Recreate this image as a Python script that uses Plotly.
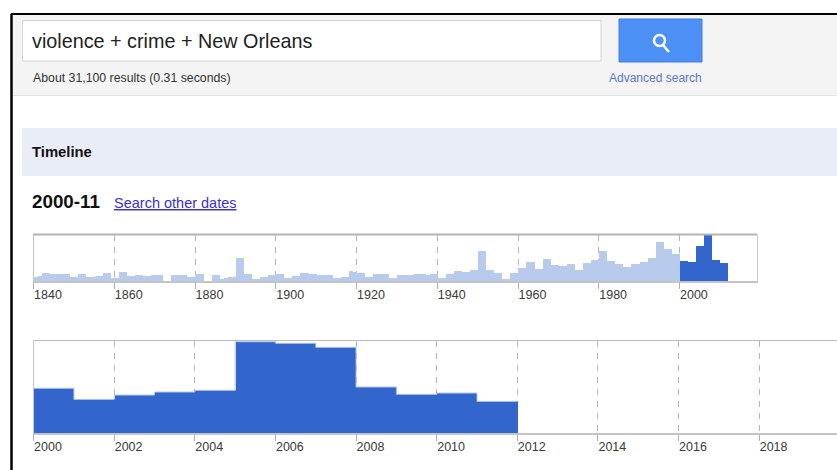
import plotly.graph_objects as go

W, H = 837, 470

# ---- data ----
overview_light_years = list(range(1840, 2000))
overview_light_values = [
    12, 15, 25, 25, 20, 22, 22, 20, 20, 12, 12, 20, 20, 13, 13, 15, 15, 25, 25, 8,
    8, 27, 27, 14, 14, 18, 18, 14, 14, 17, 17, 17, 0, 0, 19, 19, 17, 17, 13, 13,
    20, 20, 0, 0, 18, 18, 6, 10, 12, 12, 70, 70, 20, 20, 6, 6, 12, 12, 18, 18,
    20, 20, 10, 10, 16, 16, 25, 25, 20, 20, 18, 18, 17, 17, 10, 10, 12, 12, 30, 28,
    25, 25, 13, 13, 20, 20, 20, 20, 8, 8, 19, 19, 17, 17, 20, 20, 20, 18, 20, 20,
    10, 10, 20, 20, 30, 30, 28, 28, 32, 32, 90, 90, 34, 34, 25, 25, 7, 7, 25, 25,
    40, 40, 58, 58, 36, 36, 67, 67, 48, 48, 44, 44, 52, 52, 34, 34, 53, 53, 62, 62,
    90, 90, 60, 60, 50, 50, 42, 42, 50, 50, 58, 58, 68, 68, 116, 116, 95, 95, 80, 80,
]
overview_dark_years = list(range(2000, 2012))
overview_dark_values = [60, 60, 58, 58, 105, 105, 138, 138, 63, 63, 53, 53]
overview_ticks = [1840, 1860, 1880, 1900, 1920, 1940, 1960, 1980, 2000]

detail_years = list(range(2000, 2012))
detail_values = [133, 100, 113, 122, 127, 272, 267, 255, 137, 115, 119, 94]
detail_ticks = [2000, 2002, 2004, 2006, 2008, 2010, 2012, 2014, 2016, 2018]

query_text = "violence + crime + New Orleans"
stats_text = "About 31,100 results (0.31 seconds)"
advanced_text = "Advanced search"
section_text = "Timeline"
range_text = "2000-11"
other_dates_text = "Search other dates"

FONT = "Liberation Sans"
LIGHT, DARK = "#b9cbed", "#3366cc"


def px(x):
    return x / W


def py(y):
    return 1 - y / H


def rect(x0, y0, x1, y1, fill, line=None, lw=0, layer="below"):
    return dict(type="rect", xref="paper", yref="paper", x0=px(x0), x1=px(x1), y0=py(y0), y1=py(y1),
                fillcolor=fill, line=dict(color=line or fill, width=lw), layer=layer)


def seg(x0, y0, x1, y1, color, lw, layer="above"):
    return dict(type="line", xref="paper", yref="paper", x0=px(x0), x1=px(x1), y0=py(y0), y1=py(y1),
                line=dict(color=color, width=lw), layer=layer)


def text(t, x, y, size, color="#222222", bold=False, underline=False):
    s = t
    if bold:
        s = f"<b>{s}</b>"
    if underline:
        s = f"<u>{s}</u>"
    return dict(text=s, xref="paper", yref="paper", x=px(x), y=py(y), xanchor="left", yanchor="middle",
                showarrow=False, borderpad=0, font=dict(family=FONT, size=size, color=color))


fig = go.Figure()

# overview
fig.add_bar(x=overview_light_years, y=overview_light_values, width=1, offset=0, marker=dict(color=LIGHT, line_width=0),
            xaxis="x", yaxis="y", showlegend=False)
fig.add_bar(x=overview_dark_years, y=overview_dark_values, width=1, offset=0, marker=dict(color=DARK, line_width=0),
            xaxis="x", yaxis="y", showlegend=False)
# detail
fig.add_bar(x=detail_years, y=detail_values, width=1, offset=0, marker=dict(color=DARK, line_width=0),
            xaxis="x2", yaxis="y2", showlegend=False)
fig.add_scatter(x=detail_years + [detail_years[-1] + 1], y=detail_values + [detail_values[-1]], mode="lines",
                line=dict(shape="hv", color="#b3c6ec", width=1), xaxis="x2", yaxis="y2", showlegend=False,
                hoverinfo="skip")

axis_common = dict(showgrid=True, gridcolor="#b4b4b4", griddash="6px,6px", gridwidth=1, zeroline=False,
                   showline=True, linecolor="#c4c4c4", linewidth=2, mirror=False,
                   ticks="outside", ticklen=6, tickcolor="#b0b0b0", tickwidth=1,
                   ticklabelposition="outside right", ticklabelshift=-1, ticklabelstandoff=1,
                   tickfont=dict(family=FONT, size=12.5, color="#3a3a3a"))
y_common = dict(showgrid=False, zeroline=False, showticklabels=False, ticks="", showline=True,
                linecolor="#c8c8c8", linewidth=1, mirror=True)

fig.update_layout(
    width=W, height=H, autosize=False, margin=dict(l=0, r=0, t=0, b=0),
    paper_bgcolor="white", plot_bgcolor="white", barmode="overlay", bargap=0,
    xaxis=dict(axis_common, domain=[px(33.6), px(757)], range=[1840, 2019.2], tickvals=overview_ticks,
               ticktext=[str(v) for v in overview_ticks], anchor="y"),
    yaxis=dict(y_common, domain=[py(281), py(235)], range=[0, 138], anchor="x"),
    xaxis2=dict(axis_common, domain=[px(33.6), 1], range=[2000, 2019.93], tickvals=detail_ticks,
                ticktext=[str(v) for v in detail_ticks], anchor="y2"),
    yaxis2=dict(y_common, domain=[py(433), py(341)], range=[0, 274], anchor="x2"),
    shapes=[
        rect(12, 15, W, 95, "#f4f4f4"),
        seg(12, 95.5, W, 95.5, "#e2e2e2", 1, "below"),
        rect(22.5, 20.5, 601, 61, "white", "#d4d4d4", 1),
        rect(22, 128, W, 176, "#e9edf7"),
        seg(11, 14, W, 14, "#000000", 2),
        seg(11.5, 14, 11.5, H, "#000000", 2.5),
        seg(33, 234.5, 757, 234.5, "#b4b4b4", 2),
        seg(33, 340.5, W, 340.5, "#bdbdbd", 1),
        rect(619, 19, 702, 62, "#4d90f5", "#3f7fe6", 1),
        dict(type="circle", xref="paper", yref="paper", x0=px(654), x1=px(665), y0=py(35), y1=py(46),
             fillcolor="rgba(0,0,0,0)", line=dict(color="white", width=2.5), layer="above"),
        seg(663, 45, 669, 52, "white", 2.5),
    ],
    annotations=[
        text(query_text, 31, 41, 19.8, "#222222"),
        text(stats_text, 31.5, 78, 12.3, "#333333"),
        text(advanced_text, 608, 78, 12, "#5a78cc"),
        text(section_text, 31, 152, 14.8, "#111111", bold=True),
        text(range_text, 31, 201, 18.8, "#111111", bold=True),
        text(other_dates_text, 112.5, 203, 14.5, "#3a2fd0", underline=True),
    ],
)

fig.write_html("out.html", config=dict(displayModeBar=False),
               post_script="document.body.style.margin='0';")
